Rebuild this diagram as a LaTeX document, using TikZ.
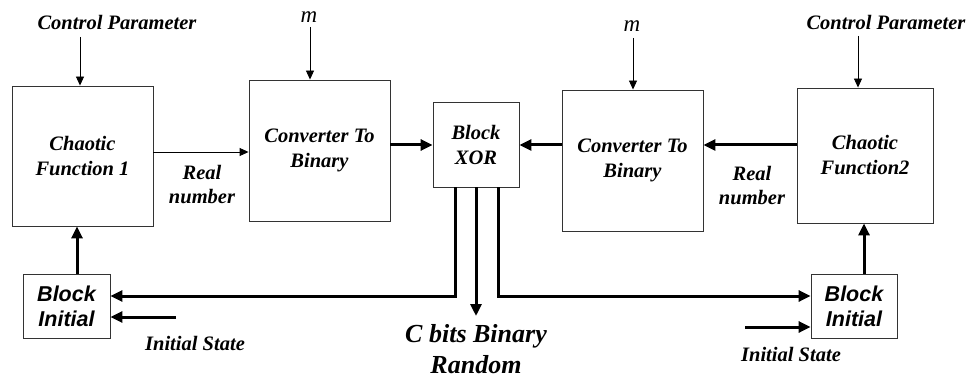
\documentclass[tikz,border=0pt]{standalone}
\usepackage{fontspec}
\setmainfont{Liberation Serif}
\setsansfont{Liberation Sans}
\usetikzlibrary{arrows.meta}

\tikzset{
  blockbox/.style={draw=black!80, line width=0.9pt, inner sep=0pt, align=center,
    font=\fontsize{20.5}{25}\selectfont\bfseries\itshape},
  initbox/.style={draw=black!80, line width=0.9pt, inner sep=0pt, align=center,
    font=\fontsize{21.5}{25}\selectfont\sffamily\bfseries\itshape},
  lbl/.style={inner sep=0pt, align=center, font=\fontsize{20.5}{24}\selectfont\bfseries\itshape},
  mlbl/.style={inner sep=0pt, font=\fontsize{23}{24}\selectfont\itshape},
  thinarrow/.style={draw=black, line width=0.9pt, -{Triangle[length=9pt,width=8pt]}},
  thickline/.style={draw=black, line width=3pt},
  thickarrow/.style={thickline, -{Triangle[length=12pt,width=11pt]}},
}

\begin{document}
\begin{tikzpicture}[x=1pt,y=-1pt]
\useasboundingbox (0,0) rectangle (979,379);

% main processing blocks
\node[blockbox, minimum width=141pt, minimum height=140pt] (chaos1) at (82.5,156) {Chaotic\\Function 1};
\node[blockbox, minimum width=141pt, minimum height=141pt] (conv1) at (319.5,150.5) {Converter To\\Binary};
\node[blockbox, minimum width=86pt, minimum height=85pt] (xor) at (476,144.5) {Block\\XOR};
\node[blockbox, minimum width=141pt, minimum height=141pt] (conv2) at (632.5,160.5) {Converter To\\Binary};
\node[blockbox, minimum width=136pt, minimum height=135pt] (chaos2) at (865,155.5) {Chaotic\\Function2};

% initial-state blocks
\node[initbox, minimum width=87pt, minimum height=64pt] (initL) at (66.5,306) {Block\\Initial};
\node[initbox, minimum width=86pt, minimum height=64pt] (initR) at (854,306) {Block\\Initial};

% external input labels
\node[lbl] (cpL) at (117,22) {Control Parameter};
\node[lbl] (cpR) at (886,22) {Control Parameter};
\node[mlbl] (mL) at (309,17) {m};
\node[mlbl] (mR) at (632,26) {m};
\node[lbl] (realL) at (202,185) {Real\\number};
\node[lbl] (realR) at (752,186) {Real\\number};
\node[lbl] (isL) at (195,343) {Initial State};
\node[lbl] (isR) at (791,354) {Initial State};
\node[inner sep=0pt, align=center, font=\fontsize{26}{31}\selectfont\bfseries\itshape] (out) at (476,349) {C bits Binary\\Random};

% control and m inputs
\draw[thinarrow] (80,37) -- (chaos1.north -| 80,0);
\draw[thinarrow] (310,27) -- (conv1.north -| 310,0);
\draw[thinarrow] (633,38) -- (conv2.north -| 633,0);
\draw[thinarrow] (858,36) -- (chaos2.north -| 858,0);

% data path
\draw[thinarrow] (chaos1.east |- 0,152) -- (conv1.west |- 0,152);
\draw[thickarrow] (conv1.east |- 0,145) -- (xor.west |- 0,145);
\draw[thickarrow] (conv2.west |- 0,145) -- (xor.east |- 0,145);
\draw[thickarrow] (chaos2.west |- 0,145) -- (conv2.east |- 0,145);

% initial blocks feed the chaotic functions
\draw[thickarrow] (initL.north -| 77,0) -- (chaos1.south -| 77,0);
\draw[thickarrow] (initR.north -| 864,0) -- (chaos2.south -| 864,0);

% XOR outputs: feedback and random bits
\draw[thickarrow, line join=miter]
  (xor.south -| 455,0) -- (455,296) -- (initL.east |- 0,296);
\draw[thickarrow, line join=miter]
  (xor.south -| 498,0) -- (498,296) -- (initR.west |- 0,296);
\draw[thickarrow] (xor.south) -- (476,316);

% initial state inputs
\draw[thickarrow] (176,317) -- (initL.east |- 0,317);
\draw[thickarrow] (745,327) -- (initR.west |- 0,327);
\end{tikzpicture}
\end{document}
